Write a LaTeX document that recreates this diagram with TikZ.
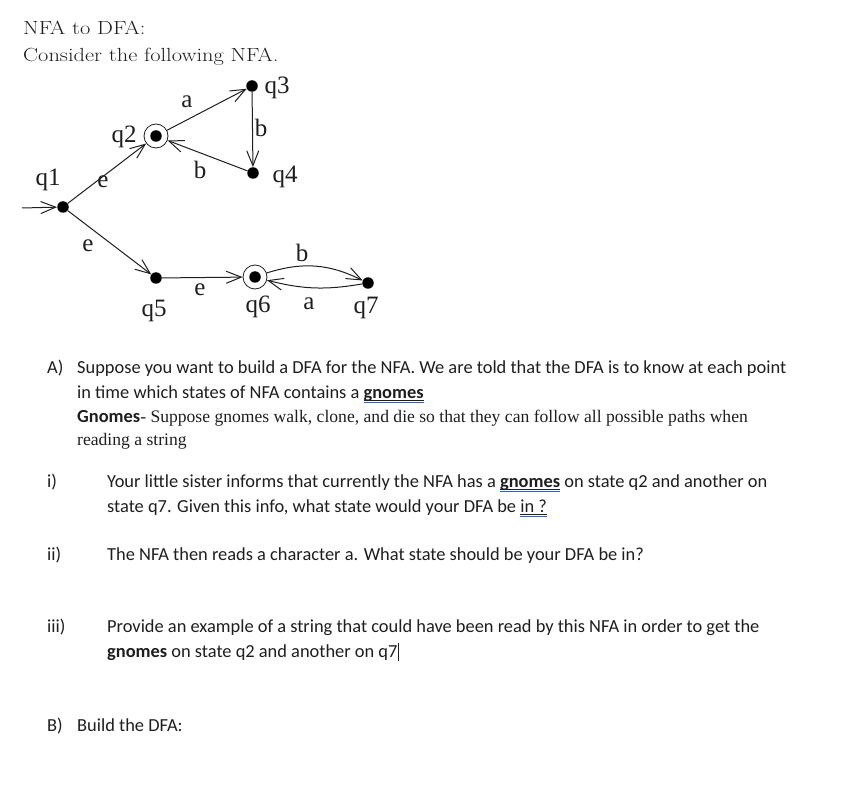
\documentclass[tikz,border=0pt]{standalone}
\usepackage{fontspec}
\newfontfamily\calfont{Carlito}
\newfontfamily\tmsfont{Liberation Serif}
\usetikzlibrary{arrows.meta}
\definecolor{wblue}{RGB}{45,95,215}
\definecolor{ink}{RGB}{30,30,30}
\newcommand\gunder[1]{\setbox0\hbox{#1}\rlap{\rule[-2.4pt]{\wd0}{0.6pt}}\rlap{\color{wblue}\rule[-5pt]{\wd0}{1.1pt}}\box0\relax}
\newcommand\cursorbar{\rule[-4pt]{0.9pt}{18.5pt}}
\tikzset{
  dot/.style={circle, fill=black, inner sep=0pt, minimum size=11.5pt},
  accst/.style={circle, draw=ink, line width=0.8pt, inner sep=0pt, minimum size=24pt},
  lbl/.style={font=\tmsfont\fontsize{25}{27}\selectfont, inner sep=0pt, text=ink},
  edge/.style={draw=ink, line width=1pt, -{Straight Barb[length=15pt,width=12pt,line width=1pt]}},
  title/.style={anchor=base west, inner sep=0pt, font=\fontsize{19}{22}\selectfont, text=ink, xscale=1.18, transform shape},
  txt/.style={anchor=base west, inner sep=0pt, font=\calfont\fontsize{18.4}{22}\selectfont, text=ink},
  srf/.style={anchor=base west, inner sep=0pt, font=\tmsfont\fontsize{17.6}{20}\selectfont, text=ink},
}
\begin{document}
\begin{tikzpicture}[x=1pt, y=-1pt]
\useasboundingbox (0,0) rectangle (848,791);
% title
\node[title] (t1) at (23,35) {NFA to DFA:};
\node[title] (t2) at (23,62) {Consider the following NFA.};
% states
\node[dot] (q1) at (63,207) {};
\node[accst] (q2) at (156,136) {};
\fill (q2) circle (5.75pt);
\node[dot] (q3) at (252,86) {};
\node[dot] (q4) at (253,173) {};
\node[dot] (q5) at (156,278) {};
\node[accst] (q6) at (255,277) {};
\fill (q6) circle (5.75pt);
\node[dot] (q7) at (368,283) {};
\coordinate (init) at (22,208);
% edges
\draw[edge] (init) -- (q1);
\draw[edge] (q1) -- (q2);
\draw[edge] (q2) -- (q3);
\draw[edge] (q3) -- (q4);
\draw[edge] (q4) -- (q2);
\draw[edge] (q1) -- (q5);
\draw[edge] (q5) -- (q6);
\draw[edge] (q6) to[bend left=22] (q7);
\draw[edge] (q7) to[bend left=12] (q6);
% labels
\node[lbl] (lq1) at (48,180) {q1};
\node[lbl] (lq2) at (124,137) {q2};
\node[lbl] (lq3) at (277,88) {q3};
\node[lbl] (lq4) at (285,177) {q4};
\node[lbl] (lq5) at (154,311) {q5};
\node[lbl] (lq6) at (258,307) {q6};
\node[lbl] (lq7) at (366,308) {q7};
\node[lbl] (e1) at (103,182) {e};
\node[lbl] (a1) at (187,102) {a};
\node[lbl] (b1) at (261,128) {b};
\node[lbl] (b2) at (200,170) {b};
\node[lbl] (e2) at (88,246) {e};
\node[lbl] (e3) at (200,290) {e};
\node[lbl] (a2) at (309,304) {a};
\node[lbl] (b3) at (302,253) {b};
% question text
\node[txt] (A) at (47,373) {A)};
\node[txt] (A1) at (77,373) {Suppose you want to build a DFA for the NFA. We are told that the DFA is to know at each point};
\node[txt] (A2) at (77,398) {in time which states of NFA contains a \gunder{\textbf{gnomes}}};
\node[txt] (A3) at (77,422) {\textbf{Gnomes}{\tmsfont\fontsize{17.6}{20}\selectfont - Suppose gnomes walk, clone, and die so that they can follow all possible paths when}};
\node[srf] (A4) at (77,445) {reading a string};
\node[txt] (i) at (47,487) {i)};
\node[txt] (i1) at (107,487) {Your little sister informs that currently the NFA has a \gunder{\textbf{gnomes}} on state q2 and another on};
\node[txt] (i2) at (107,512) {state q7. Given this info, what state would your DFA be \gunder{in ?}};
\node[txt] (ii) at (47,560) {ii)};
\node[txt] (ii1) at (107,560) {The NFA then reads a character a. What state should be your DFA be in?};
\node[txt] (iii) at (47,632) {iii)};
\node[txt] (iii1) at (107,632) {Provide an example of a string that could have been read by this NFA in order to get the};
\node[txt] (iii2) at (107,657) {\textbf{gnomes} on state q2 and another on q7\cursorbar};
\node[txt] (B) at (47,731) {B)};
\node[txt] (B1) at (77,731) {Build the DFA:};
\end{tikzpicture}
\end{document}
